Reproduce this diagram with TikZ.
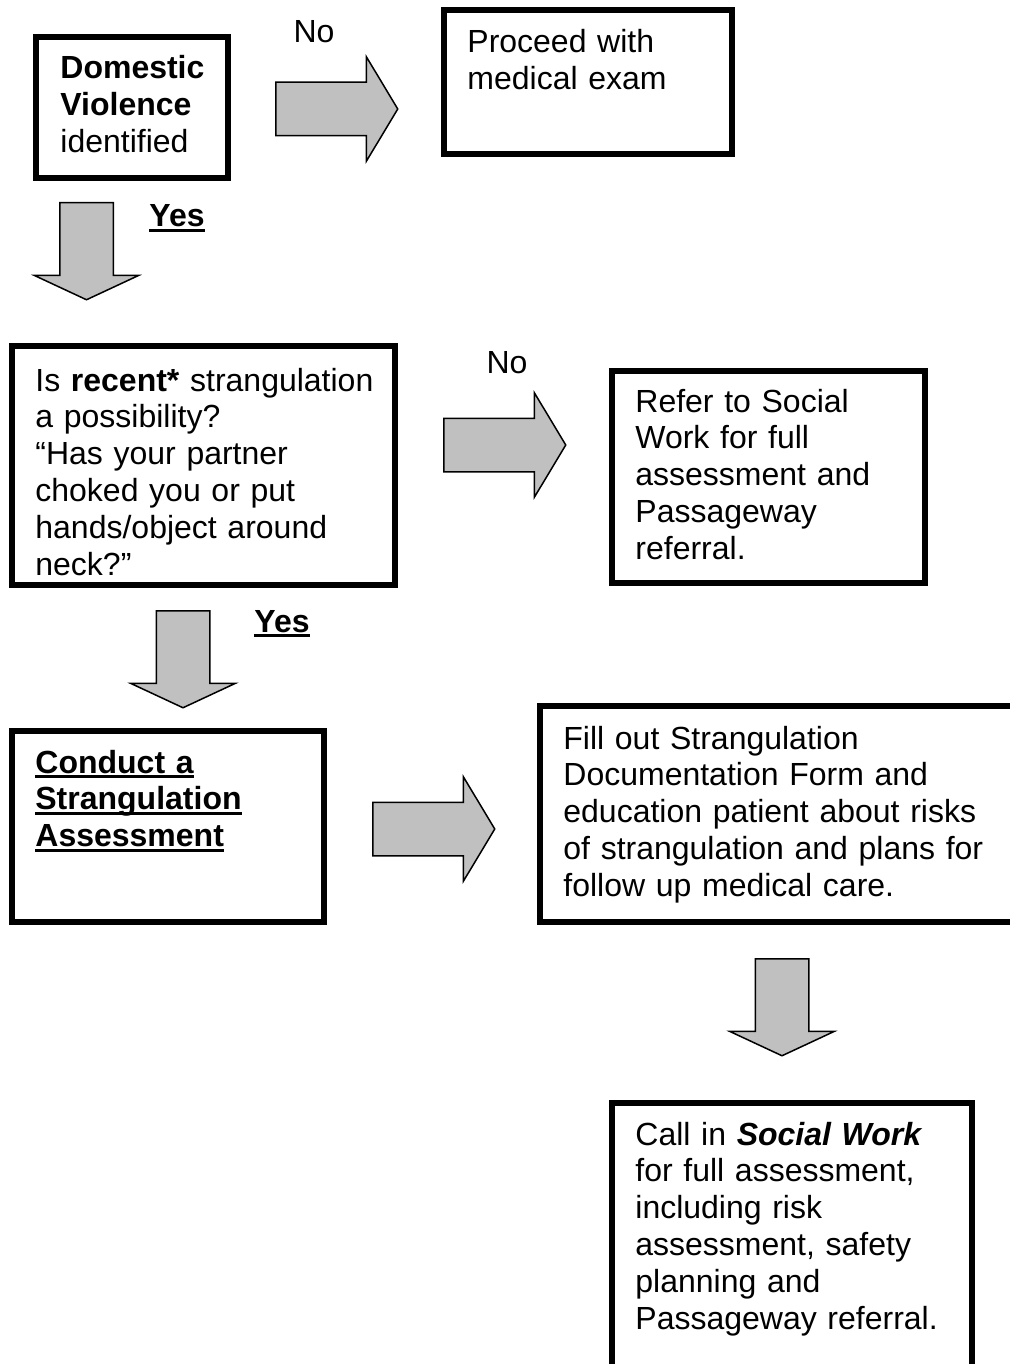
\documentclass[tikz,border=0pt]{standalone}
\usepackage{fontspec}
\setmainfont[WordSpace=0.8]{Liberation Sans}
\usetikzlibrary{shapes.arrows}
\definecolor{arrowgray}{RGB}{192,192,192}
\newcommand{\undl}[1]{\leavevmode\setbox0\hbox{#1}\rlap{\rule[-2.6pt]{\wd0}{1.4pt}}\box0}

\begin{document}
\begin{tikzpicture}[x=0.5pt,y=-0.5pt,
  font=\fontsize{16}{18.4}\selectfont,
  frame/.style={draw, line width=3pt, inner sep=0pt},
  txt/.style={anchor=base west, align=left, text width=240pt, inner sep=0pt},
  lbl/.style={anchor=base, inner sep=0pt},
  harrow/.style={single arrow, draw, fill=arrowgray, line width=0.75pt,
    inner xsep=0pt, inner ysep=13pt, single arrow head extend=12.75pt,
    single arrow tip angle=118, minimum height=61pt, anchor=tail},
  varrow/.style={harrow, rotate=-90, single arrow tip angle=130, minimum height=48.5pt}]
\useasboundingbox (0,0) rectangle (1010,1364);
\clip (0,0) rectangle (1010,1364);

% Start box
\node[frame, minimum width=96pt, minimum height=70.5pt] (dvbox) at (132,107.5) {};
\node[txt] (dvtext) at (60,79) {\textbf{Domestic}\\ \textbf{Violence}\\ identified};

% No -> medical exam
\node[harrow] (noarrow1) at (275,109) {};
\node[lbl] (no1) at (314,43) {No};
\node[frame, minimum width=144pt, minimum height=72pt] (exambox) at (588,82) {};
\node[txt] (examtext) at (467,53) {Proceed with\\ medical exam};

% Yes -> question
\node[varrow] (yesarrow1) at (86.5,202) {};
\node[lbl] (yes1) at (177,227) {\undl{\textbf{Yes}}};
\node[frame, minimum width=191.5pt, minimum height=119.5pt] (askbox) at (203.5,465.5) {};
\node[txt] (asktext) at (35,391) {Is \textbf{recent*} strangulation\\ a possibility?\\ “Has your partner\\ choked you or put\\ hands/object around\\ neck?”};

% No -> refer to social work
\node[harrow] (noarrow2) at (443,445) {};
\node[lbl] (no2) at (507,373) {No};
\node[frame, minimum width=156.5pt, minimum height=106pt] (referbox) at (768.5,477) {};
\node[txt] (refertext) at (635,412) {Refer to Social\\ Work for full\\ assessment and\\ Passageway\\ referral.};

% Yes -> assessment
\node[varrow] (yesarrow2) at (183,610) {};
\node[lbl] (yes2) at (282,632) {\undl{\textbf{Yes}}};
\node[frame, minimum width=156pt, minimum height=95.5pt] (assessbox) at (168,826.5) {};
\node[txt] (assesstext) at (35,773) {\undl{\textbf{Conduct a}}\\ \undl{\textbf{Strangulation}}\\ \undl{\textbf{Assessment}}};

% Documentation form
\node[harrow] (formarrow) at (372,829) {};
\node[frame, minimum width=253.5pt, minimum height=108pt] (formbox) at (793.5,814) {};
\node[txt] (formtext) at (563,749) {Fill out Strangulation\\ Documentation Form and\\ education patient about risks\\ of strangulation and plans for\\ follow up medical care.};

% Social work call
\node[varrow] (swarrow) at (782,958) {};
\node[frame, minimum width=180pt, minimum height=147pt] (swbox) at (792,1250) {};
\node[txt] (swtext) at (635,1145) {Call in \textbf{\textit{Social Work}}\\ for full assessment,\\ including risk\\ assessment, safety\\ planning and\\ Passageway referral.};
\end{tikzpicture}
\end{document}
